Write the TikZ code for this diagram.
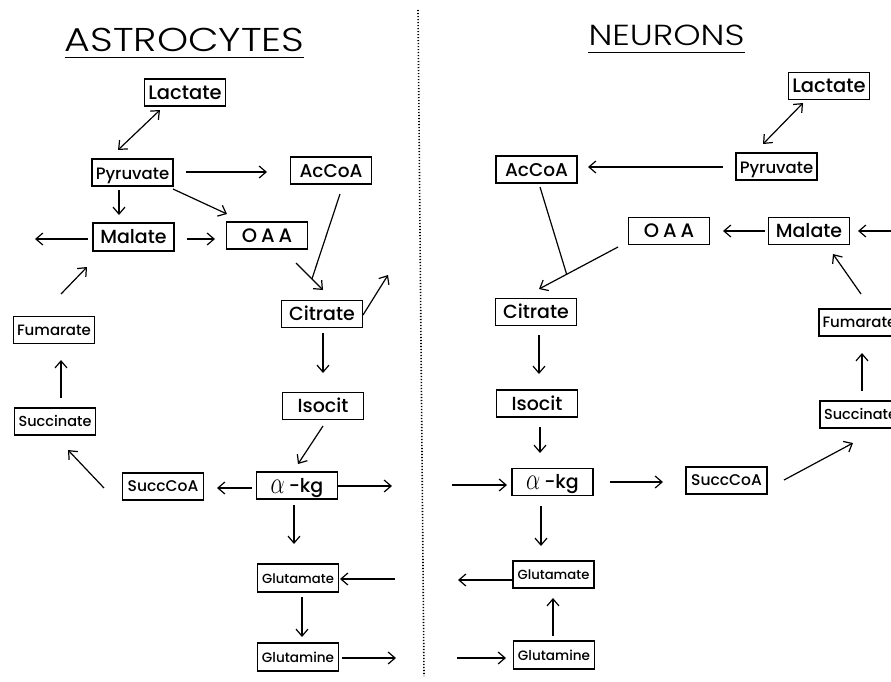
\documentclass[tikz,border=0pt]{standalone}
\usepackage{graphicx}
\usepackage{fontspec}
\IfFontExistsTF{Poppins Medium}{\setmainfont{Poppins Medium}}{\setmainfont{Poppins}}
\IfFontExistsTF{Poppins Light}{\newfontfamily\ttlfont{Poppins Light}[FakeStretch=1.2]}{\newfontfamily\ttlfont{Poppins}[FakeStretch=1.2]}
\newcommand\lblsz[1]{\fontsize{#1}{#1}\selectfont}
\newcommand\akg{\raisebox{-1pt}{\scalebox{1.3}[1.8]{$\alpha$}}\hspace{4pt}-kg}
\usetikzlibrary{arrows.meta,calc}
\begin{document}
\begin{tikzpicture}[x=1pt,y=-1pt,
  box/.style={draw, line width=1.2pt, inner sep=0pt, minimum width=81pt, minimum height=27pt,
    text height=14pt, text depth=1pt, font=\lblsz{19}},
  sbox/.style={box, text height=11pt, text depth=1pt, font=\lblsz{14}},
  ttl/.style={inner sep=0pt, font=\ttlfont\lblsz{33}},
  arr/.style={line width=1.2pt, -{Straight Barb[length=7pt,width=12pt]}},
  darr/.style={line width=1.2pt, {Straight Barb[length=7pt,width=12pt]}-{Straight Barb[length=7pt,width=12pt]}},
  ln/.style={line width=1.2pt}]
\fill[white] (0,0) rectangle (891,681);
\useasboundingbox (0,0) rectangle (891,681);
% divider
\coordinate (d1) at (418,10);
\coordinate (d2) at (424,676);
\draw[line width=1.6pt, dash pattern=on 1.2pt off 1.8pt] (d1) -- (d2);
% titles
\node[ttl] (tA) at (184.5,39.5) {ASTROCYTES};
\draw[line width=1.3pt] ([shift={(0,6)}]tA.south west) -- ([shift={(0,6)}]tA.south east);
\node[ttl, font=\ttlfont\lblsz{29}] (tN) at (666.5,35) {NEURONS};
\draw[line width=1.3pt] ([shift={(0,7)}]tN.south west) -- ([shift={(0,7)}]tN.south east);
% astrocyte nodes
\node[box, font=\lblsz{19.5}] (LacA) at (185,92.5) {Lactate};
\node[box, font=\lblsz{16.5}] (PyrA) at (132.5,172.5) {Pyruvate};
\node[box, font=\lblsz{18.5}] (AcCoAA) at (331,170.5) {AcCoA};
\node[box, minimum height=28pt] (MalA) at (133.5,237) {Malate};
\node[box, font=\lblsz{19.5}] (OAAA) at (267,235.5) {O\hspace{4pt}A\hspace{4pt}A};
\node[box] (CitA) at (322,314) {Citrate};
\node[box] (IsoA) at (323,406) {Isocit};
\node[sbox, font=\lblsz{15}] (FumA) at (54,330) {Fumarate};
\node[sbox, font=\lblsz{14.5}] (SucA) at (55,421.5) {Succinate};
\node[sbox, font=\lblsz{15.5}] (SCoAA) at (163,486.5) {SuccCoA};
\node[box] (akgA) at (297,485.5) {\akg};
\node[sbox, minimum height=28pt, font=\lblsz{13.2}] (GluA) at (298,578) {Glutamate};
\node[sbox, minimum height=28pt, font=\lblsz{13.6}] (GlnA) at (298,657) {Glutamine};
% neuron nodes
\node[box, font=\lblsz{19.5}] (LacN) at (829,86) {Lactate};
\node[box, font=\lblsz{16.5}] (PyrN) at (776.5,166.5) {Pyruvate};
\node[box, font=\lblsz{18.5}] (AcCoAN) at (536.5,169.5) {AcCoA};
\node[box, font=\lblsz{19.5}] (OAAN) at (669,231) {O\hspace{4pt}A\hspace{4pt}A};
\node[box] (MalN) at (809,231) {Malate};
\node[box] (CitN) at (536,312) {Citrate};
\node[box] (IsoN) at (537,403.5) {Isocit};
\node[sbox, font=\lblsz{15}] (FumN) at (859.5,322.5) {Fumarate};
\node[sbox, font=\lblsz{14.5}] (SucN) at (860.5,414.5) {Succinate};
\node[box] (akgN) at (552.5,482) {\akg};
\node[sbox, font=\lblsz{15.5}] (SCoAN) at (726.5,480.5) {SuccCoA};
\node[sbox, font=\lblsz{13.2}] (GluN) at (553.5,574.5) {Glutamate};
\node[sbox, minimum height=28pt, font=\lblsz{13.6}] (GlnN) at (554,655) {Glutamine};
% free ends
\coordinate (fA1) at (35,239);
\coordinate (fA2) at (388,275);
\coordinate (fA3) at (392,486);
\coordinate (fA4) at (395,579);
\coordinate (fA5) at (396,658);
\coordinate (fN1) at (896,231);
\coordinate (fN2) at (452,485);
\coordinate (fN3) at (458,580);
\coordinate (fN4) at (457,658);
% astrocyte connectors
\draw[darr] ([shift={(-25,17.5)}]LacA.center) -- ([shift={(-14.5,-22.5)}]PyrA.center);
\draw[arr] ([shift={(53.5,-0.5)}]PyrA.center) -- ([shift={(-64,1.5)}]AcCoAA.center);
\draw[arr] ([shift={(-13.5,17.5)}]PyrA.center) -- ([shift={(-14.5,-22)}]MalA.center);
\draw[arr] ([shift={(40.5,16.5)}]PyrA.center) -- ([shift={(-40,-21.5)}]OAAA.center);
\draw[arr] ([shift={(-45.5,2)}]MalA.center) -- (fA1);
\draw[arr] ([shift={(53.5,2)}]MalA.center) -- ([shift={(-52,3.5)}]OAAA.center);
\draw[arr] ([shift={(29,27.5)}]OAAA.center) -- coordinate[pos=0.59] (jA) ([shift={(1,-24)}]CitA.center);
\draw[ln] ([shift={(9,23.5)}]AcCoAA.center) -- (jA);
\draw[arr] ([shift={(41,1)}]CitA.center) -- (fA2);
\draw[arr] ([shift={(1,19)}]CitA.center) -- ([shift={(0,-33)}]IsoA.center);
\draw[arr] ([shift={(0,20)}]IsoA.center) -- ([shift={(1,-21.5)}]akgA.center);
\draw[arr] ([shift={(7,-36)}]FumA.center) -- ([shift={(-46.5,30)}]MalA.center);
\draw[arr] ([shift={(6,-23.5)}]SucA.center) -- ([shift={(7,30)}]FumA.center);
\draw[arr] ([shift={(-59,1.5)}]SCoAA.center) -- ([shift={(13,28.5)}]SucA.center);
\draw[arr] ([shift={(-45,2.5)}]akgA.center) -- ([shift={(54,1.5)}]SCoAA.center);
\draw[arr] ([shift={(40,0.5)}]akgA.center) -- (fA3);
\draw[arr] ([shift={(-3,19.5)}]akgA.center) -- ([shift={(-4,-34)}]GluA.center);
\draw[arr] (fA4) -- ([shift={(42,1)}]GluA.center);
\draw[arr] ([shift={(4,19)}]GluA.center) -- ([shift={(4,-20)}]GlnA.center);
\draw[arr] ([shift={(44,1)}]GlnA.center) -- (fA5);
% neuron connectors
\draw[darr] ([shift={(-26,17)}]LacN.center) -- ([shift={(-13.5,-22.5)}]PyrN.center);
\draw[arr] ([shift={(-53.5,0.5)}]PyrN.center) -- ([shift={(51.5,-2.5)}]AcCoAN.center);
\draw[arr] ([shift={(-51,16)}]OAAN.center) -- coordinate[pos=0.65] (jN) ([shift={(3,-23)}]CitN.center);
\draw[ln] ([shift={(3.5,17.5)}]AcCoAN.center) -- (jN);
\draw[arr] ([shift={(-44,0)}]MalN.center) -- ([shift={(54,0)}]OAAN.center);
\draw[arr] (fN1) -- ([shift={(49,0)}]MalN.center);
\draw[arr] ([shift={(1.5,-28.5)}]FumN.center) -- ([shift={(24,23)}]MalN.center);
\draw[arr] ([shift={(1.5,-23.5)}]SucN.center) -- ([shift={(2.5,30.5)}]FumN.center);
\draw[arr] ([shift={(57.5,-0.5)}]SCoAN.center) -- ([shift={(-7.5,28.5)}]SucN.center);
\draw[arr] ([shift={(57.5,0)}]akgN.center) -- ([shift={(-63.5,1.5)}]SCoAN.center);
\draw[arr] (fN2) -- ([shift={(-45.5,3)}]akgN.center);
\draw[arr] ([shift={(3,23)}]CitN.center) -- ([shift={(2,-29.5)}]IsoN.center);
\draw[arr] ([shift={(3,23.5)}]IsoN.center) -- ([shift={(-12.5,-29)}]akgN.center);
\draw[arr] ([shift={(-11.5,24)}]akgN.center) -- ([shift={(-12.5,-28.5)}]GluN.center);
\draw[arr] ([shift={(-40.5,5.5)}]GluN.center) -- (fN3);
\draw[arr] ([shift={(-1,-19)}]GlnN.center) -- ([shift={(-0.5,23.5)}]GluN.center);
\draw[arr] (fN4) -- ([shift={(-48,3)}]GlnN.center);
\end{tikzpicture}
\end{document}
